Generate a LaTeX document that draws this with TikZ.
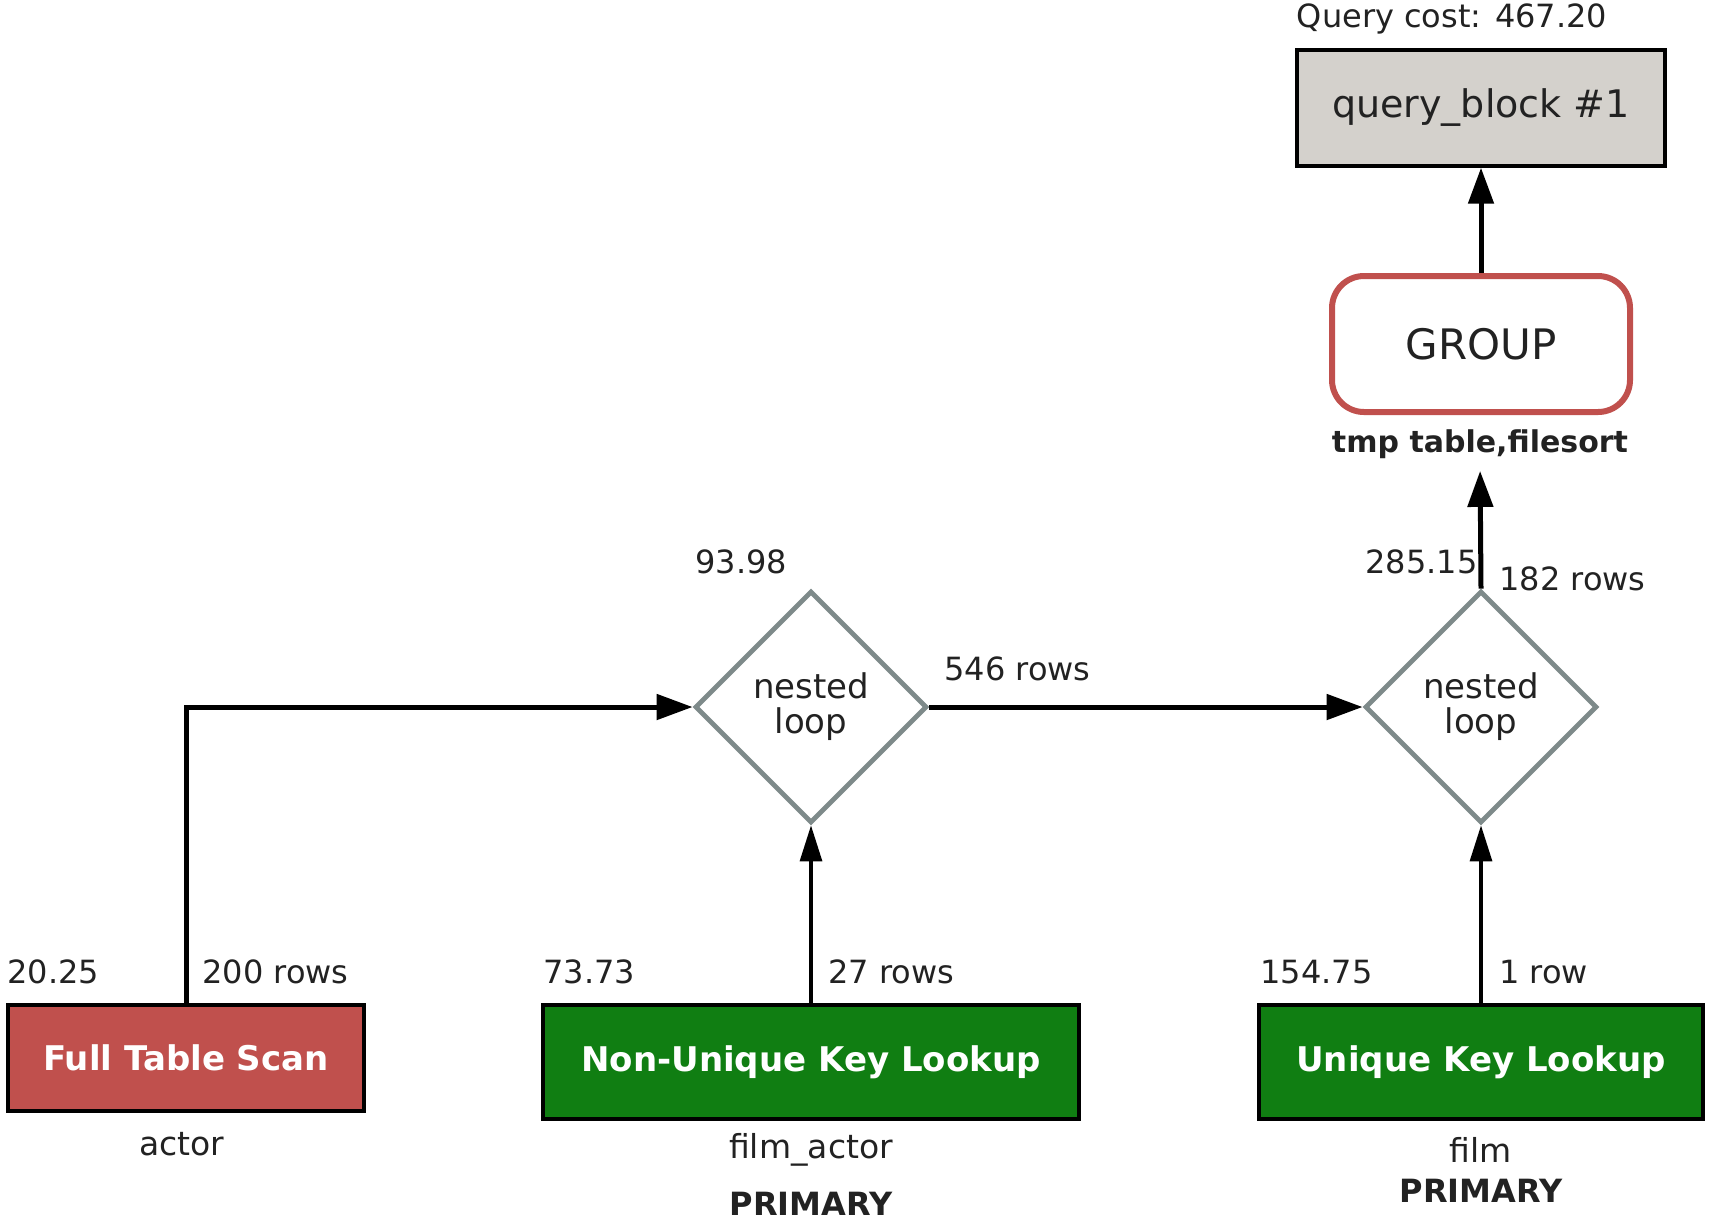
\documentclass[tikz,border=0pt]{standalone}
\usepackage{fontspec}
\setmainfont{DejaVu Sans}
\usetikzlibrary{shapes.geometric, arrows.meta, positioning}

\definecolor{scanred}{RGB}{192,80,77}
\definecolor{lookgreen}{RGB}{16,126,18}
\definecolor{blockgray}{RGB}{212,209,204}
\definecolor{loopgray}{RGB}{126,138,138}
\definecolor{inkgray}{RGB}{34,34,34}

\tikzset{
  cost/.style={font=\fontsize{16}{18}\selectfont, inner sep=0pt, text=inkgray},
  tbl/.style={font=\fontsize{16.5}{18}\selectfont, inner sep=0pt, text=inkgray},
  keyname/.style={font=\bfseries\fontsize{16}{18}\selectfont, inner sep=0pt, text=inkgray},
  access/.style={draw=black, line width=1.7pt, text=white, font=\bfseries\fontsize{17}{20}\selectfont, minimum height=57pt},
  joinloop/.style={diamond, aspect=1, draw=loopgray, line width=2.4pt, minimum width=116pt, minimum height=116pt, inner sep=0pt, align=center, text=inkgray, font=\fontsize{17}{17.5}\selectfont},
  flow/.style={line width=2.5pt, -{Triangle[length=18pt,width=12.5pt]}},
  feed/.style={line width=1.6pt, -{Triangle[length=18pt,width=11pt]}}
}

\begin{document}
\begin{tikzpicture}[x=0.5pt, y=-0.5pt]
    \useasboundingbox (0,0) rectangle (1713,1223);

    % top of the plan
    \node[cost] (qcost) at (1452,19) {Query cost: 467.20};
    \node[draw=black, fill=blockgray, line width=1.7pt, minimum width=184pt, minimum height=58pt, text=inkgray, font=\fontsize{19}{21}\selectfont] (qblock) at (1481,108) {query\_block \#1};
    \node[draw=scanred, line width=3pt, rounded corners=16pt, minimum width=149pt, minimum height=68pt, text=inkgray, font=\fontsize{21}{24}\selectfont] (grp) at (1481,344) {GROUP};
    \node[keyname, font=\bfseries\fontsize{15}{18}\selectfont] (tmp) at (1480,444) {tmp table,filesort};

    % joins
    \node[joinloop] (nl1) at (811,707) {nested\\loop};
    \node[joinloop] (nl2) at (1481,707) {nested\\loop};
    \node[cost, anchor=west] (c1) at (695,562) {93.98};
    \node[cost, anchor=west] (r1) at (944,669) {546 rows};
    \node[cost, anchor=west] (c2) at (1365,562) {285.15};
    \node[cost, anchor=west] (r2) at (1499,579) {182 rows};

    % table access
    \node[access, fill=scanred, minimum width=178pt, minimum height=53pt] (fts) at (186,1058) {Full Table Scan};
    \node[access, fill=lookgreen, minimum width=268pt] (nukl) at (811,1062) {Non-Unique Key Lookup};
    \node[access, fill=lookgreen, minimum width=222pt] (ukl) at (1481,1062) {Unique Key Lookup};

    \node[cost, anchor=west] (cfts) at (7,972) {20.25};
    \node[cost, anchor=west] (rfts) at (202,972) {200 rows};
    \node[cost, anchor=west] (cnukl) at (543,972) {73.73};
    \node[cost, anchor=west] (rnukl) at (828,972) {27 rows};
    \node[cost, anchor=west] (cukl) at (1260,972) {154.75};
    \node[cost, anchor=west] (rukl) at (1499,972) {1 row};

    \node[tbl] (tactor) at (182,1144) {actor};
    \node[tbl] (tfa) at (811,1150) {film\_actor};
    \node[keyname] (kfa) at (811,1204) {PRIMARY};
    \node[tbl] (tfilm) at (1481,1150) {film};
    \node[keyname] (kfilm) at (1481,1191) {PRIMARY};

    % connectors
    \draw[flow] (fts.north) |- (nl1.west);
    \draw[feed] (nukl.north) -- (nl1.south);
    \draw[flow] (nl1.east) -- (nl2.west);
    \draw[feed] (ukl.north) -- (nl2.south);
    \draw[flow, shorten >=6pt] (nl2.north) -- (tmp.south);
    \draw[flow] (grp.north) -- (qblock.south);
\end{tikzpicture}
\end{document}
